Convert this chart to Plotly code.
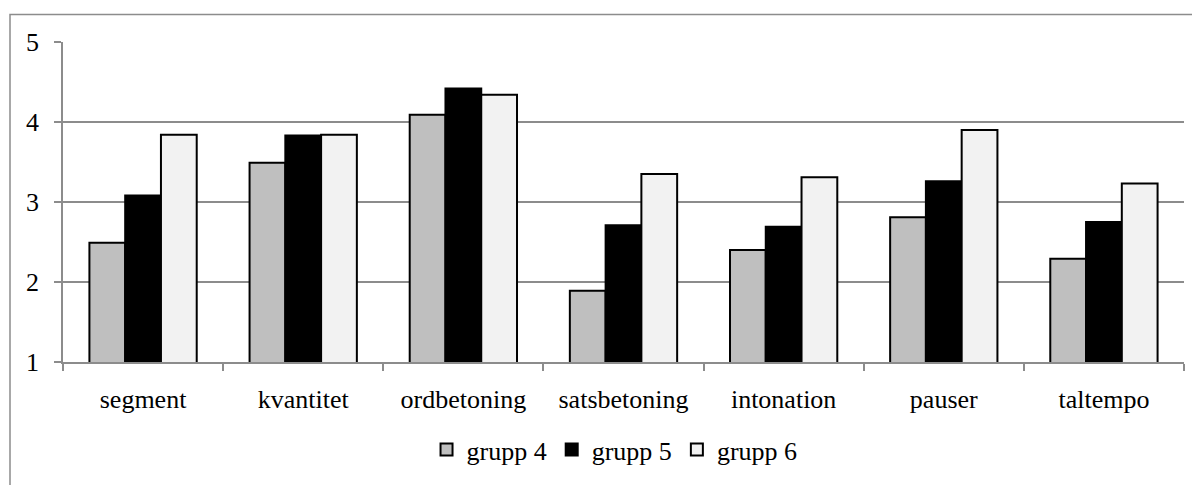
import plotly.graph_objects as go

categories = ["segment", "kvantitet", "ordbetoning", "satsbetoning", "intonation", "pauser", "taltempo"]
grupp4 = [2.49, 3.49, 4.09, 1.89, 2.40, 2.81, 2.29]
grupp5 = [3.08, 3.83, 4.42, 2.71, 2.69, 3.26, 2.75]
grupp6 = [3.84, 3.84, 4.34, 3.35, 3.31, 3.90, 3.23]
series_names = ["grupp 4", "grupp 5", "grupp 6"]
y_ticks = [1, 2, 3, 4, 5]

colors = ["#BFBFBF", "#000000", "#F2F2F2"]
FONT = "Liberation Serif, Times New Roman, serif"

fig = go.Figure()
for name, vals, col in zip(series_names, [grupp4, grupp5, grupp6], colors):
    fig.add_trace(go.Bar(
        x=categories, y=vals, name=name,
        marker=dict(color=col, line=dict(color="#000000", width=2)),
    ))

grid = "#8C8C8C"
# page body has an 8px default margin, so figure is sized/offset to compensate
fig.update_layout(
    width=1192, height=477,
    margin=dict(l=55, r=16, t=34, b=118),
    paper_bgcolor="white", plot_bgcolor="white",
    barmode="group", bargap=0.33, bargroupgap=0,
    font=dict(family=FONT, size=26, color="#000000"),
    showlegend=True,
    legend=dict(orientation="h", x=0.492, xanchor="center", y=-0.2, yanchor="top",
                font=dict(family=FONT, size=26), itemwidth=30, tracegroupgap=0),
    xaxis=dict(type="category", showgrid=False, showline=True, linecolor=grid, linewidth=1.5,
               ticks="outside", tickson="boundaries", ticklen=7, tickcolor=grid, tickwidth=1.5,
               tickfont=dict(family=FONT, size=26), ticklabelstandoff=13),
    yaxis=dict(range=[1, 5], tickvals=y_ticks, showgrid=True, gridcolor=grid, gridwidth=1.5,
               showline=True, linecolor=grid, linewidth=1.5, zeroline=False,
               ticks="outside", ticklen=7, tickcolor=grid, tickwidth=1.5,
               tickfont=dict(family=FONT, size=26), ticklabelstandoff=10),
    shapes=[dict(type="rect", xref="paper", yref="paper",
                 x0=(10 - 63) / 1121, x1=(1215 - 63) / 1121,
                 y0=(367 - 500) / 325, y1=(367 - 14) / 325,
                 line=dict(color="#8C8C8C", width=1.5), fillcolor="rgba(0,0,0,0)", layer="below")],
)

fig.write_html("out.html")
